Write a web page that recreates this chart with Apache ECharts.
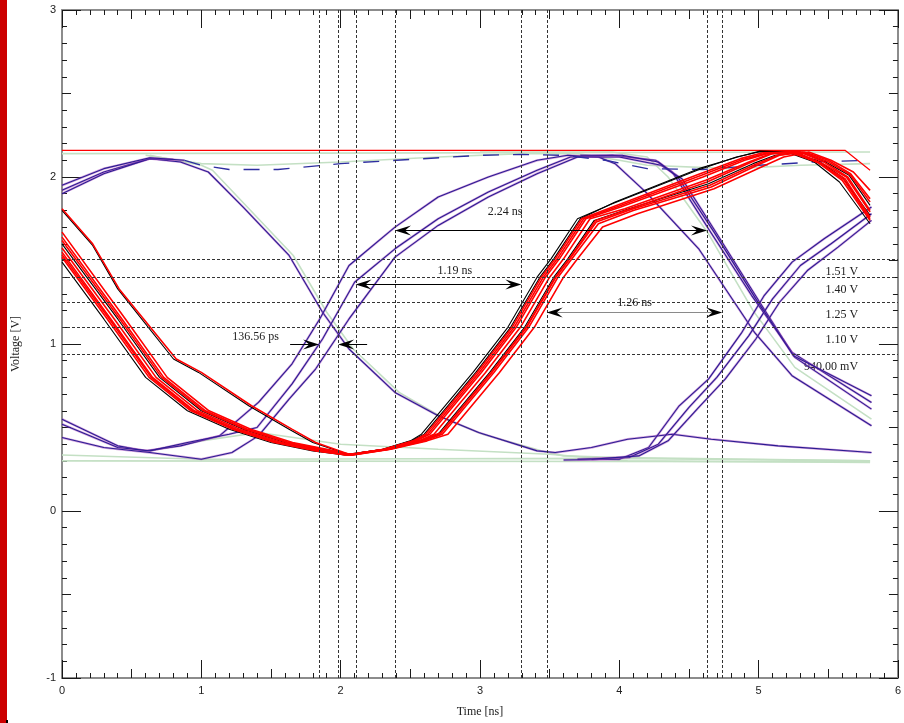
<!DOCTYPE html>
<html>
<head>
<meta charset="utf-8">
<title>Eye diagram</title>
<script src="https://cdn.jsdelivr.net/npm/echarts@6/dist/echarts.min.js"></script>
<style>
  html, body { margin: 0; padding: 0; background: #ffffff; }
  #chart { width: 904px; height: 723px; }
</style>
</head>
<body>
<div id="chart"></div>
<script>
// ---------- waveform traces, points are [time ns, voltage V] ----------
// main red/black bundle (earliest to latest edge)
const bundle1 = [[0,1.49],[0.3,1.15],[0.6,0.8],[0.9,0.6],[1.2,0.49],[1.5,0.41],[1.8,0.36],[2.03,0.335],[2.3,0.37],[2.5,0.42],[2.58,0.46],[2.95,0.83],[3.2,1.1],[3.41,1.4],[3.51,1.51],[3.7,1.75],[3.95,1.84],[4.56,2.04],[4.84,2.12],[5.0,2.15],[5.2,2.15],[5.4,2.09],[5.58,1.97],[5.8,1.72]];
const bundle2 = [[0,1.52],[0.325,1.15],[0.625,0.8],[0.925,0.6],[1.225,0.49],[1.525,0.41],[1.825,0.36],[2.04,0.335],[2.31,0.37],[2.52,0.42],[2.61,0.46],[2.98,0.83],[3.23,1.1],[3.44,1.4],[3.54,1.51],[3.73,1.75],[3.98,1.83],[4.58,2.02],[4.87,2.11],[5.03,2.145],[5.22,2.15],[5.42,2.09],[5.6,1.98],[5.8,1.74]];
const bundle2b = [[0,1.535],[0.34,1.15],[0.64,0.8],[0.94,0.6],[1.24,0.49],[1.54,0.41],[1.84,0.36],[2.045,0.335],[2.315,0.37],[2.53,0.42],[2.625,0.46],[2.995,0.83],[3.245,1.1],[3.455,1.4],[3.555,1.51],[3.745,1.75],[3.995,1.825],[4.59,2.01],[4.885,2.105],[5.045,2.14],[5.235,2.15],[5.43,2.085],[5.61,1.985],[5.8,1.75]];
const bundle3 = [[0,1.55],[0.35,1.15],[0.65,0.8],[0.95,0.6],[1.25,0.49],[1.55,0.41],[1.85,0.36],[2.05,0.335],[2.32,0.37],[2.54,0.42],[2.64,0.46],[3.01,0.83],[3.26,1.1],[3.47,1.4],[3.57,1.51],[3.76,1.75],[4.01,1.82],[4.6,2.0],[4.9,2.1],[5.06,2.14],[5.25,2.15],[5.44,2.08],[5.62,1.99],[5.8,1.76]];
const bundle4 = [[0,1.575],[0.375,1.15],[0.675,0.8],[0.975,0.6],[1.275,0.49],[1.575,0.41],[1.875,0.36],[2.06,0.335],[2.33,0.37],[2.56,0.42],[2.67,0.46],[3.04,0.83],[3.29,1.1],[3.5,1.4],[3.6,1.51],[3.79,1.75],[4.04,1.81],[4.62,1.98],[4.93,2.09],[5.09,2.14],[5.27,2.15],[5.46,2.08],[5.63,2.0],[5.8,1.79]];
const bundle5 = [[0,1.6],[0.4,1.15],[0.7,0.8],[1.0,0.6],[1.3,0.49],[1.6,0.41],[1.9,0.36],[2.07,0.335],[2.34,0.37],[2.58,0.42],[2.7,0.46],[3.07,0.83],[3.32,1.1],[3.53,1.4],[3.63,1.51],[3.82,1.74],[4.07,1.81],[4.64,1.96],[4.96,2.08],[5.12,2.13],[5.3,2.15],[5.48,2.09],[5.65,2.01],[5.8,1.83]];
const bundle5b = [[0,1.62],[0.415,1.15],[0.715,0.8],[1.015,0.6],[1.315,0.49],[1.615,0.41],[1.915,0.36],[2.075,0.335],[2.345,0.37],[2.59,0.42],[2.715,0.46],[3.085,0.83],[3.335,1.1],[3.545,1.4],[3.645,1.51],[3.835,1.73],[4.085,1.805],[4.65,1.95],[4.975,2.075],[5.135,2.13],[5.315,2.15],[5.49,2.095],[5.655,2.015],[5.8,1.85]];
const bundle6 = [[0,1.64],[0.43,1.15],[0.73,0.8],[1.03,0.6],[1.33,0.49],[1.63,0.41],[1.93,0.36],[2.08,0.335],[2.35,0.37],[2.6,0.42],[2.73,0.46],[3.1,0.83],[3.35,1.1],[3.56,1.4],[3.66,1.51],[3.85,1.72],[4.1,1.8],[4.66,1.94],[4.99,2.07],[5.15,2.13],[5.33,2.15],[5.5,2.1],[5.66,2.02],[5.8,1.87]];
const bundle7 = [[0,1.67],[0.455,1.15],[0.755,0.8],[1.055,0.6],[1.355,0.49],[1.655,0.41],[1.955,0.36],[2.09,0.335],[2.36,0.37],[2.62,0.42],[2.77,0.46],[3.14,0.83],[3.39,1.1],[3.6,1.4],[3.7,1.51],[3.88,1.7],[4.13,1.78],[4.68,1.93],[5.02,2.06],[5.18,2.12],[5.36,2.15],[5.52,2.1],[5.68,2.03],[5.8,1.92]];
// slow falling pair
const slowRed = [[0,1.81],[0.22,1.6],[0.41,1.33],[0.82,0.91],[1.0,0.83],[1.36,0.63],[1.65,0.49],[1.82,0.41],[2.06,0.34],[2.34,0.37],[2.6,0.43],[2.72,0.47],[3.08,0.83],[3.33,1.1],[3.54,1.4],[3.64,1.51],[3.83,1.74],[4.08,1.81],[4.63,1.97],[4.95,2.09],[5.1,2.14],[5.28,2.155],[5.47,2.09],[5.64,2.0],[5.8,1.8]];
const slowBlack = [[0,1.8],[0.22,1.59],[0.4,1.33],[0.8,0.91],[0.98,0.83],[1.34,0.63],[1.63,0.49],[1.8,0.41],[2.05,0.34],[2.31,0.37],[2.51,0.42],[2.6,0.46],[2.97,0.83],[3.22,1.1],[3.43,1.4],[3.53,1.51],[3.72,1.75],[3.97,1.85],[4.57,2.05],[4.85,2.12],[5.01,2.155],[5.21,2.15],[5.42,2.1],[5.6,2.0],[5.8,1.77]];
// steady high level
const highRed = [[0,2.16],[5.62,2.16],[5.8,2.04]];

// blue/purple traces
const blueFall = [[0,1.92],[0.3,2.03],[0.63,2.11],[0.85,2.09],[1.05,2.03],[1.3,1.82],[1.63,1.53],[1.87,1.19],[2.06,0.97],[2.39,0.71],[2.7,0.57],[2.99,0.47],[3.41,0.36],[3.54,0.35],[3.8,0.38],[4.06,0.43],[4.38,0.46],[4.66,0.43],[5.14,0.39],[5.81,0.35]];
const blueStart1 = [[0,1.9],[0.3,2.02],[0.63,2.11],[0.8,2.105]];
const blueStart2 = [[0,1.95],[0.3,2.05],[0.63,2.115],[0.88,2.1]];
const blueHigh = [[0.88,2.1],[1.0,2.07],[1.2,2.045],[1.55,2.045],[2.0,2.08],[2.4,2.1],[3.0,2.13],[3.3,2.135],[3.6,2.13],[3.9,2.1],[4.2,2.05],[4.6,2.045],[5.0,2.07],[5.4,2.09],[5.8,2.1]];
const blueRise1 = [[0,0.55],[0.2,0.47],[0.4,0.39],[0.6,0.36],[0.85,0.39],[1.13,0.45],[1.41,0.65],[1.65,0.88],[1.85,1.15],[2.06,1.47],[2.39,1.7],[2.7,1.88],[3.06,2.0],[3.41,2.1],[3.63,2.13],[3.85,2.12],[3.97,2.08],[4.19,1.91],[4.57,1.57],[4.97,1.07],[5.24,0.81],[5.81,0.51]];
const blueRise2 = [[0,0.52],[0.2,0.45],[0.4,0.38],[0.63,0.36],[0.9,0.41],[1.2,0.46],[1.4,0.5],[1.65,0.76],[1.87,1.03],[2.1,1.37],[2.39,1.57],[2.7,1.75],[3.06,1.91],[3.41,2.04],[3.65,2.12],[3.95,2.13],[4.26,2.1],[4.38,2.03],[4.64,1.69],[4.95,1.29],[5.24,0.95],[5.81,0.65]];
const blueRise3 = [[0,0.44],[0.3,0.38],[0.63,0.35],[1.0,0.31],[1.22,0.35],[1.41,0.45],[1.63,0.67],[1.82,0.85],[2.06,1.15],[2.39,1.52],[2.7,1.71],[3.06,1.88],[3.41,2.02],[3.7,2.12],[4.0,2.12],[4.3,2.07],[4.45,1.99],[4.7,1.66],[5.0,1.26],[5.26,0.92],[5.81,0.61]];
const blueLateFall = [[3.72,2.13],[4.02,2.13],[4.28,2.09],[4.42,2.0],[4.68,1.67],[4.98,1.27],[5.25,0.93],[5.81,0.69]];
const blueLateRise1 = [[3.6,0.305],[4.0,0.31],[4.21,0.38],[4.43,0.63],[4.64,0.79],[4.88,1.07],[5.04,1.29],[5.24,1.49],[5.47,1.63],[5.81,1.82]];
const blueLateRise2 = [[3.7,0.31],[4.07,0.32],[4.28,0.4],[4.5,0.62],[4.7,0.8],[4.93,1.05],[5.1,1.27],[5.3,1.47],[5.52,1.6],[5.81,1.78]];
const blueLateRise3 = [[3.8,0.31],[4.14,0.33],[4.35,0.42],[4.57,0.62],[4.76,0.79],[4.98,1.03],[5.15,1.25],[5.35,1.44],[5.57,1.58],[5.81,1.74]];

// pale green traces
const greenTop = [[0,2.14],[5.8,2.15]];
const greenHigh = [[0.6,2.13],[1.0,2.08],[1.4,2.07],[2.0,2.09],[2.7,2.12],[3.3,2.14],[3.7,2.14],[4.0,2.1],[4.2,2.07],[4.8,2.05],[5.3,2.07],[5.8,2.08]];
const greenFall1 = [[0.63,2.13],[1.0,2.07],[1.08,2.04],[1.33,1.82],[1.66,1.53],[1.9,1.19],[2.09,0.97],[2.42,0.71],[2.73,0.56],[3.02,0.46],[3.44,0.36],[3.6,0.33],[4.0,0.32],[5.8,0.3]];
const greenFall2 = [[3.0,2.15],[3.95,2.15],[4.2,2.12],[4.35,2.0],[4.64,1.66],[4.96,1.2],[5.26,0.86],[5.81,0.55]];
const greenLow1 = [[0,0.3],[5.8,0.295]];
const greenLow2 = [[0,0.335],[1.0,0.31],[4.0,0.315],[5.8,0.3]];
const greenLow3 = [[0.63,0.36],[1.0,0.42],[1.41,0.47],[2.0,0.4],[2.7,0.37],[3.5,0.34],[4.06,0.3],[5.8,0.29]];

// ---------- measurements ----------
const levels = [1.51, 1.40, 1.25, 1.10, 0.94];           // threshold levels, V
const spanStart = [2.39, 2.107, 3.479, 1.84544];          // ns
const spanEnd   = [4.63, 3.297, 4.739, 1.982];            // ns
const spanLevel = [1.68, 1.357, 1.19, 1.0];               // V, height of each arrow
// where each span's readout sits
const spanLabelTime = [3.18, 2.82, 4.11, 1.39];
const spanLabelVolt = [1.79, 1.44, 1.245, 1.045];
const levelLabelTime = 5.714;

// ---------- styling ----------
const SERIF = '"Liberation Serif", "Times New Roman", serif';
const SANS = '"Liberation Sans", Arial, sans-serif';
const TEXT = '#222222';

function trace(data, color, width, z, extra) {
  return Object.assign({
    type: 'line', data: data, showSymbol: false, symbol: 'none', silent: true,
    animation: false, z: z, emphasis: { disabled: true },
    lineStyle: { color: color, width: width }
  }, extra || {});
}

function spanText(i) {
  const d = Math.abs(spanEnd[i] - spanStart[i]);
  return d < 1 ? (d * 1000).toFixed(2) + ' ps' : d.toFixed(2) + ' ns';
}
function levelText(v) {
  return v < 1 ? (v * 1000).toFixed(2) + ' mV' : v.toFixed(2) + ' V';
}

const series = [];
// pale green
[greenTop, greenHigh, greenFall1, greenFall2, greenLow1, greenLow2, greenLow3].forEach(function (d) {
  series.push(trace(d, '#c4e0c4', 1.6, 2));
});
// threshold readouts sit under the traces
series.push({
  type: 'custom', z: 1, silent: true, animation: false,
  data: levels.map(function (v) { return [levelLabelTime, v]; }),
  encode: { x: 0, y: 1 },
  renderItem: function (params, api) {
    const p = api.coord([api.value(0), api.value(1)]);
    return { type: 'text', x: p[0], y: p[1] + 13,
      style: { text: levelText(levels[params.dataIndex]), fontFamily: SERIF, fontSize: 12,
               fill: TEXT, align: 'right', verticalAlign: 'middle' } };
  }
});
// blue / purple, a thin magenta halo under a dark blue core
[blueFall, blueStart1, blueStart2, blueRise1, blueRise2, blueRise3, blueLateFall, blueLateRise1, blueLateRise2, blueLateRise3].forEach(function (d) {
  series.push(trace(d, 'rgba(170,70,190,0.5)', 2.3, 3));
  series.push(trace(d, '#2a1d92', 1.1, 3));
});
series.push(trace(blueHigh, '#2e2ea0', 1.4, 3, { lineStyle: { color: '#2e2ea0', width: 1.4, type: [16, 14] } }));
// red / black bundle: black edges first, red over them
series.push(trace(highRed, '#ff0000', 1.2, 4));
[slowBlack, bundle1, bundle5].forEach(function (d) {
  series.push(trace(d, '#000000', 1.1, 4));
});
[slowRed, bundle2, bundle2b, bundle3, bundle4, bundle5b, bundle6, bundle7].forEach(function (d) {
  series.push(trace(d, '#ff0000', 1.6, 4));
});

// dashed threshold and crossing markers
const markerData = levels.map(function (v) { return [v, 0]; })
  .concat(spanStart.concat(spanEnd).map(function (t) { return [t, 1]; }));
series.push({
  type: 'custom', z: 5, silent: true, animation: false, data: markerData,
  renderItem: function (params, api) {
    const cs = params.coordSys;
    const v = api.value(0);
    let shape;
    if (api.value(1) === 1) {
      const x = Math.round(api.coord([v, 0])[0]) + 0.5;
      shape = { x1: x, y1: cs.y, x2: x, y2: cs.y + cs.height };
    } else {
      const y = Math.round(api.coord([0, v])[1]) + 0.5;
      shape = { x1: cs.x, y1: y, x2: cs.x + cs.width, y2: y };
    }
    return { type: 'line', shape: shape, style: { stroke: '#333333', lineWidth: 1, lineDash: [3, 2] } };
  }
});

// measurement arrows
function head(tip, dir) {
  const L = 16, W = 10, n = [-dir[1], dir[0]];
  const b = [tip[0] - dir[0] * L, tip[1] - dir[1] * L];
  return { type: 'polygon', shape: { points: [
    tip, [b[0] + n[0] * W / 2, b[1] + n[1] * W / 2],
    [tip[0] - dir[0] * L * 0.62, tip[1] - dir[1] * L * 0.62],
    [b[0] - n[0] * W / 2, b[1] - n[1] * W / 2]] }, style: { fill: '#000000' } };
}
series.push({
  type: 'custom', z: 6, silent: true, animation: false,
  data: spanStart.map(function (s, i) {
    return { value: [s, spanEnd[i], spanLevel[i]], itemStyle: { color: i === 2 ? '#8a8a8a' : '#000000' } };
  }),
  encode: { x: [0, 1], y: 2 },
  renderItem: function (params, api) {
    const a = api.coord([api.value(0), api.value(2)]);
    const b = api.coord([api.value(1), api.value(2)]);
    const y = Math.round(a[1]) + 0.5;
    const color = api.visual('color');
    const kids = [];
    if (Math.abs(b[0] - a[0]) < 40) {
      // narrow span: arrows point in from outside
      const tail = 29;
      kids.push({ type: 'line', shape: { x1: a[0] - tail, y1: y, x2: a[0] - 6, y2: y }, style: { stroke: color, lineWidth: 1 } });
      kids.push({ type: 'line', shape: { x1: b[0] + tail, y1: y, x2: b[0] + 6, y2: y }, style: { stroke: color, lineWidth: 1 } });
      kids.push(head([a[0], y], [1, 0]));
      kids.push(head([b[0], y], [-1, 0]));
    } else {
      kids.push({ type: 'line', shape: { x1: a[0] + 6, y1: y, x2: b[0] - 6, y2: y }, style: { stroke: color, lineWidth: 1 } });
      kids.push(head([a[0], y], [-1, 0]));
      kids.push(head([b[0], y], [1, 0]));
    }
    return { type: 'group', children: kids };
  }
});
// span readouts
series.push({
  type: 'custom', z: 6, silent: true, animation: false,
  data: spanLabelTime.map(function (t, i) { return [t, spanLabelVolt[i]]; }),
  encode: { x: 0, y: 1 },
  renderItem: function (params, api) {
    const p = api.coord([api.value(0), api.value(1)]);
    return { type: 'text', x: p[0], y: p[1],
      style: { text: spanText(params.dataIndex), fontFamily: SERIF, fontSize: 12,
               fill: TEXT, align: 'center', verticalAlign: 'middle' } };
  }
});

// ---------- axes: a framed box, ticks inward on all four sides ----------
function axis(dim, position, interval, tickLen, withLabels, withMinor) {
  const isX = dim === 'x';
  const a = {
    type: 'value', position: position,
    min: isX ? 0 : -1, max: isX ? 6 : 3, interval: interval,
    axisLine: { show: !withMinor, onZero: false, lineStyle: { color: '#8c8c8c', width: 2 } },
    axisTick: { show: true, inside: true, length: tickLen, lineStyle: { color: '#1a1a1a', width: 1 } },
    minorTick: { show: !!withMinor, splitNumber: 5, length: 5, lineStyle: { color: '#1a1a1a', width: 1 } },
    axisLabel: { show: withLabels, margin: isX ? 7 : 6, fontFamily: SANS, fontSize: 11, color: TEXT },
    splitLine: { show: false }, minorSplitLine: { show: false },
    silent: true
  };
  if (withLabels) {
    a.name = isX ? 'Time [ns]' : 'Voltage [V]';
    a.nameLocation = 'middle';
    a.nameGap = isX ? 28 : 40;
    a.nameTextStyle = { fontFamily: SERIF, fontSize: 12, color: TEXT };
  }
  return a;
}

const chart = echarts.init(document.getElementById('chart'), null, { renderer: 'canvas' });
chart.setOption({
  animation: false,
  backgroundColor: '#ffffff',
  grid: { left: 62, right: 3, top: 10, bottom: 44 },
  xAxis: [
    axis('x', 'bottom', 1, 18, true, false),
    axis('x', 'top', 1, 18, false, false),
    axis('x', 'bottom', 0.5, 9, false, true),
    axis('x', 'top', 0.5, 9, false, true)
  ],
  yAxis: [
    axis('y', 'left', 1, 19, true, false),
    axis('y', 'right', 1, 19, false, false),
    axis('y', 'left', 0.5, 9, false, true),
    axis('y', 'right', 0.5, 9, false, true)
  ],
  graphic: [
    { type: 'rect', left: 0, top: 0, shape: { width: 7, height: 723 }, style: { fill: '#cc0000' }, silent: true },
    { type: 'rect', left: 6, top: 720, shape: { width: 2, height: 3 }, style: { fill: '#000000' }, silent: true }
  ],
  series: series
});
</script>
</body>
</html>
